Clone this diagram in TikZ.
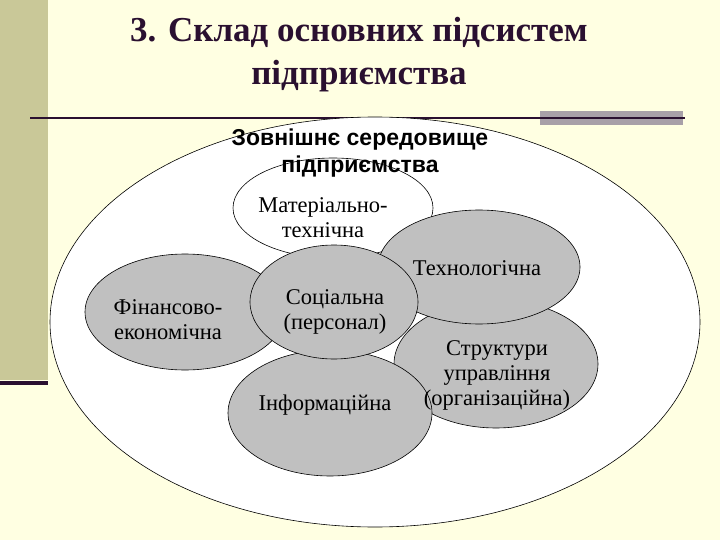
\documentclass[tikz,border=0pt]{standalone}
\usepackage{fontspec}
\setmainfont{Liberation Serif}
\newfontfamily\arialf{Liberation Sans}
\usetikzlibrary{shapes.geometric}
\definecolor{bgc}{HTML}{FFFFE2}
\definecolor{olivec}{HTML}{C9C898}
\definecolor{darkc}{HTML}{2A1030}
\definecolor{grayc}{HTML}{C0C0C0}
\definecolor{barc}{HTML}{A8A0A8}
\begin{document}
\begin{tikzpicture}[x=1pt,y=-1pt,
  ell/.style={ellipse,draw=black,line width=0.6pt,inner sep=0pt},
  gell/.style={ell,fill=grayc},
  lab/.style={font=\fontsize{22.5}{25}\selectfont,align=center,text=black}]
\fill[bgc] (0,0) rectangle (720,540);
\useasboundingbox (0,0) rectangle (720,540);
\fill[olivec] (0,0) rectangle (48,380);
\fill[darkc] (0,381) rectangle (48,385);
\draw[darkc,line width=1.8pt] (30,118) -- (545,118);
\fill[barc] (540,111) rectangle (683,125);
\draw[darkc,line width=1.2pt] (540,118) -- (685,118);
\node[font=\fontsize{35}{43}\selectfont\bfseries,text=darkc,align=center] (title) at (359,55) {3. Склад основних підсистем\\підприємства};
\node[ell,fill=white,minimum width=650pt,minimum height=410pt] (outer) at (375,322) {};
\node[ell,fill=white,minimum width=200pt,minimum height=100pt] (mat) at (333,208) {};
\node[font=\arialf\bfseries\fontsize{23}{27}\selectfont,align=center] (env) at (360,153) {Зовнішнє середовище\\підприємства};
\node[gell,minimum width=200pt,minimum height=116pt] (fin) at (185,312) {};
\node[gell,minimum width=204pt,minimum height=128pt] (str) at (496,364) {};
\node[gell,minimum width=202pt,minimum height=114pt] (tech) at (479,267) {};
\node[gell,minimum width=204pt,minimum height=126pt] (inf) at (330,413) {};
\node[gell,minimum width=168pt,minimum height=114pt] (soc) at (334,302) {};
\node[lab] (matl) at (323,218) {Матеріально-\\технічна};
\node[lab] (techl) at (477,268) {Технологічна};
\node[lab] (finl) at (168,320) {Фінансово-\\економічна};
\node[lab] (socl) at (335,312) {Соціальна\\(персонал)};
\node[lab] (infl) at (325,405) {Інформаційна};
\node[lab] (strl) at (497,375) {Структури\\управління\\(організаційна)};
\end{tikzpicture}
\end{document}
